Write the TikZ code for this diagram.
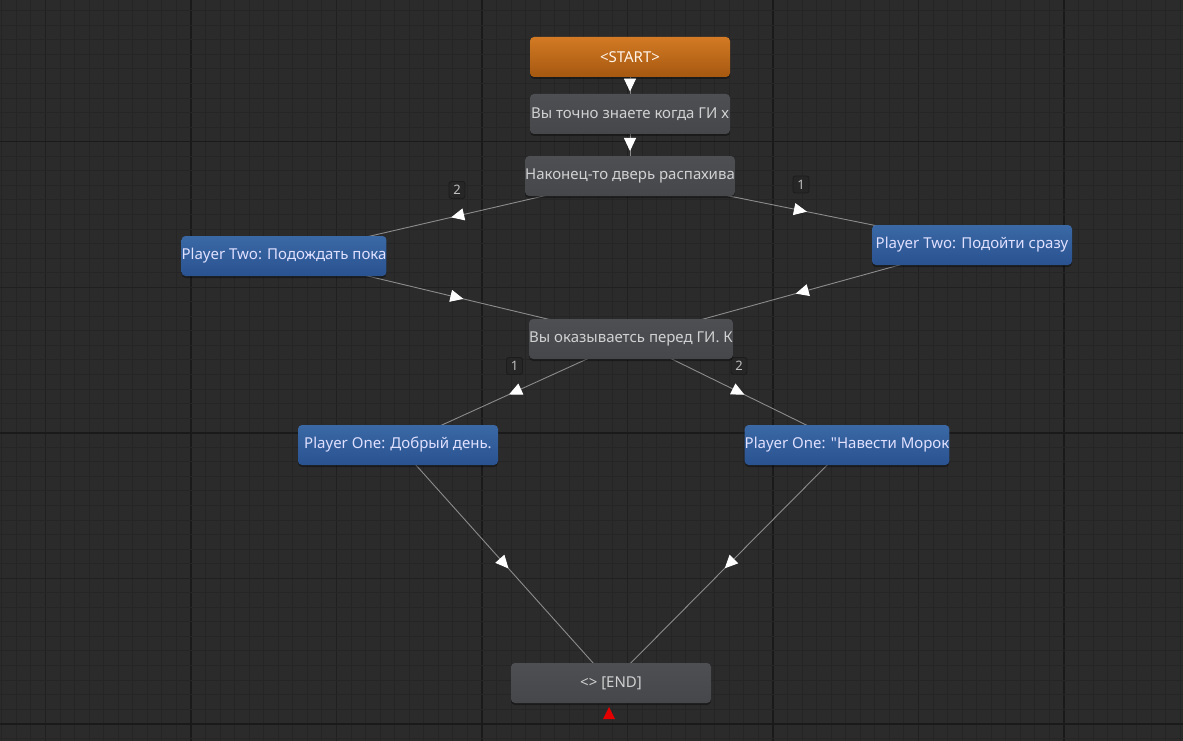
\documentclass[tikz,border=0pt]{standalone}
\usepackage{fontspec}
\setmainfont{Noto Sans}[Ligatures=TeXOff]
\usetikzlibrary{arrows.meta,decorations.markings,shadows}
\definecolor{bg}{HTML}{2B2B2B}
\definecolor{gminor}{HTML}{252525}
\definecolor{gmed}{HTML}{202020}
\definecolor{gmajor}{HTML}{1A1A1A}
\definecolor{orT}{HTML}{D27A24}
\definecolor{orB}{HTML}{A65810}
\definecolor{grT}{HTML}{4D4F53}
\definecolor{grB}{HTML}{45474B}
\definecolor{blT}{HTML}{3A69A6}
\definecolor{blB}{HTML}{2A5290}
\definecolor{conncol}{HTML}{8C8C8C}
\definecolor{labfill}{HTML}{262626}
\definecolor{labdraw}{HTML}{1C1C1C}
\pgfdeclarelayer{gridlayer}
\pgfdeclarelayer{edgelayer}
\pgfsetlayers{gridlayer,edgelayer,main}
\tikzset{
  box/.style={rounded corners=4pt, minimum width=200pt, minimum height=40pt,
    inner sep=0pt, font=\fontsize{15}{17}\selectfont,
    drop shadow={shadow xshift=0pt, shadow yshift=-2pt, opacity=0.35, fill=black}},
  startbox/.style={box, top color=orT, bottom color=orB, text=white!92!orange},
  graybox/.style={box, top color=grT, bottom color=grB, text=white!82!black},
  bluebox/.style={box, top color=blT, bottom color=blB, text=white!88!blue},
  conn/.style={draw=conncol, line width=0.9pt,
    postaction={decorate},
    decoration={markings, mark=at position 0.5 with {\arrow[xshift=6pt]{Triangle[length=13pt,width=12pt,fill=white,color=white]}}}},
  lab/.style={fill=labfill, draw=labdraw, rounded corners=2.5pt, minimum width=16pt,
    minimum height=17pt, inner sep=0pt, text=white!75!black,
    font=\fontsize{13}{14}\selectfont},
}
\begin{document}
\begin{tikzpicture}[x=1pt,y=-1pt]
\useasboundingbox (0,0) rectangle (1183,741);
\begin{pgfonlayer}{gridlayer}
  \fill[bg] (0,0) rectangle (1183,741);
  \foreach \i in {0,...,81}{
    \pgfmathsetmacro\xx{1.85+\i*14.55}
    \pgfmathtruncatemacro\m{mod(\i+7,20)}
    \pgfmathtruncatemacro\n{mod(\i+7,10)}
    \ifnum\m=0
      \draw[gmajor, line width=1.6pt] (\xx,0) -- (\xx,741);
    \else\ifnum\n=0
      \draw[gmed, line width=1.3pt] (\xx,0) -- (\xx,741);
    \else
      \draw[gminor, line width=1pt] (\xx,0) -- (\xx,741);
    \fi\fi
  }
  \foreach \j in {0,...,50}{
    \pgfmathsetmacro\yy{10.75+\j*14.55}
    \pgfmathtruncatemacro\m{mod(\j+11,20)}
    \pgfmathtruncatemacro\n{mod(\j+11,10)}
    \ifnum\m=0
      \draw[gmajor, line width=1.6pt] (0,\yy) -- (1183,\yy);
    \else\ifnum\n=0
      \draw[gmed, line width=1.3pt] (0,\yy) -- (1183,\yy);
    \else
      \draw[gminor, line width=1pt] (0,\yy) -- (1183,\yy);
    \fi\fi
  }
\end{pgfonlayer}

\node[startbox] (start) at (630,57) {<START>};
\node[graybox] (n2) at (630,114) {Вы точно знаете когда ГИ х};
\node[graybox] (n3) at (630,176) {Наконец-то дверь распахива};
\node[bluebox] (pt1) at (284,256) {Player Two: Подождать пока};
\node[bluebox] (pt2) at (972,245) {Player Two: Подойти сразу};
\node[graybox] (n5) at (631,339) {Вы оказываетсь перед ГИ. К};
\node[bluebox] (po1) at (398,445) {Player One: Добрый день.};
\node[bluebox] (po2) at (847,445) {Player One: "Навести Морок};
\node[graybox] (end) at (611,683) {<> [END]};
\fill[red!90!black] (603,719) -- (615,719) -- (609,707) -- cycle;

\begin{pgfonlayer}{edgelayer}
  \draw[conn] (start.center) -- (n2.center);
  \draw[conn] (n2.center) -- (n3.center);
  \draw[conn] (n3.center) -- node[lab, pos=0.5, yshift=26pt] {2} (pt1.center);
  \draw[conn] (n3.center) -- node[lab, pos=0.5, yshift=26pt] {1} (pt2.center);
  \draw[conn] (pt1.center) -- (n5.center);
  \draw[conn] (pt2.center) -- (n5.center);
  \draw[conn] (n5.center) -- node[lab, pos=0.5, yshift=26pt] {1} (po1.center);
  \draw[conn] (n5.center) -- node[lab, pos=0.5, yshift=26pt] {2} (po2.center);
  \draw[conn] (po1.center) -- (end.center);
  \draw[conn] (po2.center) -- (end.center);
\end{pgfonlayer}
\end{tikzpicture}
\end{document}
